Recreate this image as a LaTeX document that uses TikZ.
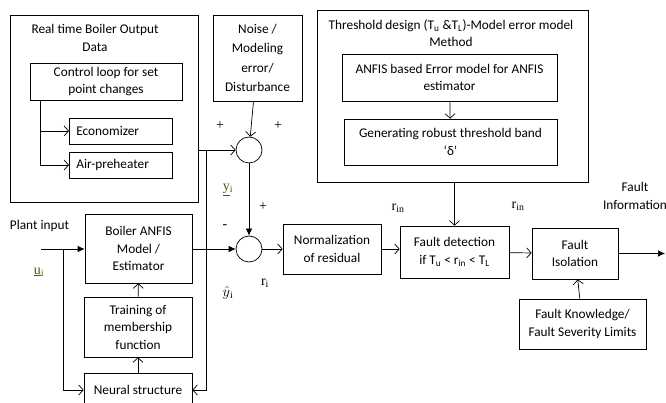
\documentclass[tikz,border=0pt]{standalone}
\usepackage{fontspec}
\setmainfont{Carlito}
\newfontfamily\tnr{Liberation Serif}
\usetikzlibrary{arrows.meta}
\definecolor{gramgreen}{RGB}{60,95,20}

\begin{document}
\begin{tikzpicture}[x=1pt,y=-1pt,
        line width=0.7pt,
        font=\fontsize{13.3}{17.5}\selectfont,
        box/.style={draw, align=center, inner sep=2pt},
        sumpt/.style={draw, circle, minimum size=26pt, inner sep=0pt},
        lbl/.style={inner sep=0pt, font=\tnr\fontsize{14}{16}\selectfont},
        op/.style={-{Straight Barb[length=4.5pt,width=10pt]}},
        fl/.style={-{Latex[length=7pt,width=6.5pt]}}]

        \useasboundingbox (0,0) rectangle (666,403);

        % boiler output data

        \node[box, minimum width=188pt, minimum height=187pt] (rt) at (104,108.5) {};
        \node[inner sep=0pt, align=center] (rttitle) at (95,38) {Real time Boiler Output\\Data};
        \node[box, minimum width=152pt, minimum height=37pt] (ctrl) at (106,81.5) {Control loop for set\\point changes};
        \node[box, anchor=west, minimum height=26pt, text width=89pt, align=left, inner xsep=7pt] (eco) at (69,131) {Economizer};
        \node[box, anchor=west, minimum height=26pt, text width=89pt, align=left, inner xsep=7pt] (air) at (69,165) {Air-preheater};

        \draw[op] ([xshift=11pt]ctrl.south west) |- (eco.west);
        \draw[op] ([xshift=11pt]ctrl.south west) |- (air.west);

        % noise and summing points

        \node[box, minimum width=89pt, minimum height=86pt, font=\fontsize{13.3}{19.5}\selectfont] (noise) at (257.5,58) {Noise /\\Modeling\\error/\\Disturbance};
        \node[sumpt] (c1) at (249,150) {};
        \node[sumpt] (c2) at (249,249) {};

        \coordinate (j1) at (206,150);
        \draw[op] (rt.east |- c1) -- (c1);
        \draw[op] (noise) -- (c1);
        \draw[fl] (c1) -- (c2);

        % threshold design

        \node[box, minimum width=271pt, minimum height=172pt] (thr) at (452.5,96) {};
        \node[inner sep=0pt, align=center] (thrtitle) at (451,33) {Threshold design (T\textsubscript{u} \&T\textsubscript{L})-Model error model\\Method};
        \node[box, minimum width=215pt, minimum height=47pt] (anf) at (449.5,77.5) {ANFIS based Error model for ANFIS\\estimator};
        \node[box, minimum width=213pt, minimum height=46pt] (gen) at (450.5,142) {Generating robust threshold band\\‘δ’};
        \draw[op] (anf) -- (gen);

        % estimator

        \node[box, minimum width=107pt, minimum height=69pt] (boiler) at (138.5,248.5) {Boiler ANFIS\\Model /\\Estimator};
        \node[box, minimum width=108pt, minimum height=60pt] (train) at (138,327) {Training of\\membership\\function};
        \node[box, minimum width=108pt, minimum height=34pt] (neural) at (138,390) {Neural structure};

        \node[inner sep=0pt] (pin) at (39.5,226) {Plant input};
        \coordinate (pstart) at (41,249);
        \coordinate (j2) at (63,249);
        \draw[fl] (pstart) -- (pstart -| boiler.west);
        \draw[op] (j2) |- (neural.west);
        \draw[op] (train) -- (boiler);
        \draw[op] (neural) -- (train);
        \draw[op] (j1) |- (neural.east);
        \draw[fl] (boiler.east |- c2) -- (c2);

        % fault detection and isolation

        \node[box, minimum width=98pt, minimum height=50pt] (norm) at (332,249) {Normalization\\of residual};
        \node[box, minimum width=109pt, minimum height=52pt] (det) at (454.5,252) {Fault detection\\if T\textsubscript{u} < r\textsubscript{in} < T\textsubscript{L}};
        \node[box, minimum width=86pt, minimum height=51pt] (iso) at (575,253.5) {Fault\\Isolation};
        \node[box, minimum width=127pt, minimum height=50pt] (know) at (582.5,324) {Fault Knowledge/\\Fault Severity Limits};
        \node[inner sep=0pt, align=center] (finfo) at (635,196) {Fault\\Information};
        \coordinate (fout) at (665,255);

        \draw[op] (c2) -- (norm);
        \draw[op] (norm.east) -- (norm.east -| det.west);
        \draw[op] (thr.south -| det.north) -- (det.north);
        \draw[op] (det) -- (iso);
        \draw[op] (know) -- (iso);
        \draw[fl] (iso.east) -- (iso.east -| fout);

        % signs and signals

        \node[lbl] (p1) at (220,126) {+};
        \node[lbl] (p2) at (278,126) {+};
        \node[lbl] (p3) at (263,207) {+};
        \node[lbl] (m1) at (225,227) {-};
        \node[lbl, text=gramgreen] (yi) at (228,190) {\underline{y}\textsubscript{i}};
        \node[lbl, text=gramgreen] (ui) at (39,272) {\underline{u}\textsubscript{i}};
        \node[lbl] (yhat) at (228,293) {$\hat{y}$\textsubscript{i}};
        \node[lbl] (ri) at (265,283) {r\textsubscript{i}};
        \node[lbl] (rin1) at (398,208) {r\textsubscript{in}};
        \node[lbl] (rin2) at (518,206) {r\textsubscript{in}};

    \end{tikzpicture}
\end{document}
